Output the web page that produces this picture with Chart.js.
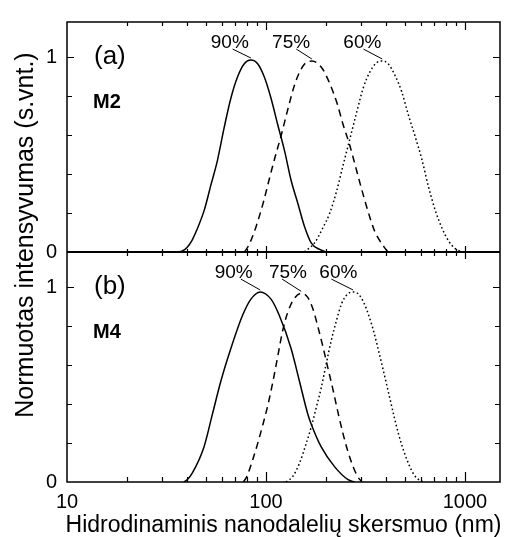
<!DOCTYPE html>
<html>
<head>
<meta charset="utf-8">
<title>Dydžių pasiskirstymas</title>
<script src="https://cdn.jsdelivr.net/npm/chart.js@4.4.1/dist/chart.umd.min.js"></script>
<style>
    html, body { margin: 0; padding: 0; background: #fff; }
    #wrap { width: 505px; height: 537px; }
</style>
</head>
<body>
<div id="wrap"><canvas id="dlsChart" width="505" height="537"></canvas></div>
<script>
// ==================== DATA ====================
// (a) M2 - hydrodynamic size (nm) vs normalised intensity
const sizeM2_90 = [35.8, 38, 40, 42.5, 45, 49, 52.8, 57, 61.6, 66.6, 72, 77.8, 84, 90.8, 98, 106, 114.5, 124, 133.7, 144.5, 156, 168.7, 186, 201];
const intM2_90  = [0, 0.005, 0.022, 0.06, 0.115, 0.216, 0.342, 0.469, 0.637, 0.789, 0.899, 0.966, 0.985, 0.966, 0.899, 0.789, 0.654, 0.519, 0.368, 0.25, 0.132, 0.047, 0.013, 0];

const sizeM2_75 = [78, 81.5, 85.7, 89.3, 97.2, 104, 111, 119, 128.6, 140, 154.5, 170, 191, 209, 227.5, 244, 263.6, 282.5, 302, 326, 352, 392.6, 411];
const intM2_75  = [0, 0.03, 0.081, 0.132, 0.258, 0.376, 0.486, 0.595, 0.73, 0.865, 0.958, 0.98, 0.944, 0.865, 0.764, 0.654, 0.548, 0.435, 0.325, 0.207, 0.106, 0.025, 0];

const sizeM2_60 = [156, 175.5, 193, 209, 226, 244, 263.6, 285, 307.8, 332.7, 359.5, 383.8, 411, 444.6, 480.8, 519, 561, 606.6, 656, 708, 766, 828, 894, 967];
const intM2_60  = [0, 0.047, 0.123, 0.199, 0.309, 0.444, 0.578, 0.713, 0.84, 0.924, 0.971, 0.98, 0.966, 0.907, 0.823, 0.705, 0.595, 0.477, 0.334, 0.216, 0.123, 0.056, 0.017, 0];

// (b) M4
const sizeM4_90 = [38.7, 40.5, 42.6, 48.8, 53.8, 59.3, 66.6, 76.2, 84, 93.5, 106, 116.7, 133.7, 147.3, 162.3, 168.7, 189.5, 221, 258.6, 279];
const intM4_90  = [0, 0.015, 0.045, 0.18, 0.348, 0.517, 0.685, 0.854, 0.938, 0.975, 0.938, 0.854, 0.685, 0.517, 0.348, 0.298, 0.18, 0.079, 0.012, 0];

const sizeM4_75 = [77, 80.2, 85.7, 90.8, 96.2, 102, 108, 114.5, 121.4, 128.6, 138, 150.3, 162.5, 172.2, 182.5, 193.3, 204.8, 217, 230, 244, 258.4, 274, 290, 304];
const intM4_75  = [0, 0.029, 0.113, 0.197, 0.29, 0.391, 0.508, 0.643, 0.778, 0.87, 0.938, 0.968, 0.946, 0.887, 0.795, 0.694, 0.584, 0.475, 0.357, 0.247, 0.155, 0.079, 0.025, 0];

const sizeM4_60 = [126.2, 136.4, 147.3, 159.2, 168.7, 179, 189.5, 201, 213, 226, 239.3, 256.6, 274, 292.5, 311, 328.6, 348.5, 369, 391.5, 415, 439.5, 465.6, 494, 523.6, 554.6, 594, 630];
const intM4_60  = [0, 0.029, 0.096, 0.197, 0.281, 0.382, 0.483, 0.609, 0.727, 0.828, 0.912, 0.963, 0.975, 0.963, 0.918, 0.854, 0.769, 0.668, 0.559, 0.449, 0.34, 0.239, 0.155, 0.088, 0.037, 0.008, 0];

// Axis ticks
const xTickLabels = [10, 100, 1000];
const xMinorTicks = [20, 30, 40, 50, 60, 70, 80, 90, 200, 300, 400, 500, 600, 700, 800, 900];
const yTickLabels = [0, 1];
const yMinorTicks = [0.2, 0.4, 0.6, 0.8];

const seriesNames = ['90%', '75%', '60%'];

// ==================== STYLE ====================
const FONT = "'Liberation Sans', Arial, sans-serif";
Chart.defaults.font.family = FONT;
Chart.defaults.color = '#000';

const lineDash = [[], [7, 5], [1.6, 2.6]];

// Label anchors (nm) for the peak tags; leaders run to each curve's maximum
const tagTextAt = { top: [65.8, 133.7, 305], bottom: [68.8, 129, 231] };
const tagLeadFrom = { top: [68, 142, 309], bottom: [74.8, 120.5, 213] };

function toPoints(xs, ys) {
    return xs.map((x, i) => ({ x: x, y: ys[i] }));
}

function makeSet(label, xs, ys, idx, axis) {
    return {
        label: label,
        data: toPoints(xs, ys),
        yAxisID: axis,
        borderColor: '#000',
        borderWidth: 1.5,
        borderDash: lineDash[idx],
        pointRadius: 0,
        fill: false,
        cubicInterpolationMode: 'monotone'
    };
}

const datasets = [
    makeSet('M2 90%', sizeM2_90, intM2_90, 0, 'yTop'),
    makeSet('M2 75%', sizeM2_75, intM2_75, 1, 'yTop'),
    makeSet('M2 60%', sizeM2_60, intM2_60, 2, 'yTop'),
    makeSet('M4 90%', sizeM4_90, intM4_90, 0, 'yBot'),
    makeSet('M4 75%', sizeM4_75, intM4_75, 1, 'yBot'),
    makeSet('M4 60%', sizeM4_60, intM4_60, 2, 'yBot')
];

// ==================== FRAME, TICKS AND TEXT ====================
function peakOf(ds) {
    let best = ds.data[0];
    ds.data.forEach(p => { if (p.y > best.y) best = p; });
    return best;
}

const panelMarks = {
    id: 'panelMarks',
    afterDraw(chart) {
        const ctx = chart.ctx;
        const area = chart.chartArea;
        const xs = chart.scales.x;
        const panels = [chart.scales.yTop, chart.scales.yBot];
        const mid = chart.scales.yTop.getPixelForValue(0);

        ctx.save();
        ctx.setLineDash([]);
        ctx.globalAlpha = 1;
        ctx.globalCompositeOperation = 'source-over';
        ctx.strokeStyle = '#000';
        ctx.fillStyle = '#000';

        // outer frame + divider
        ctx.lineWidth = 1.5;
        ctx.beginPath();
        ctx.rect(area.left, area.top, area.right - area.left, area.bottom - area.top);
        ctx.stroke();
        ctx.lineWidth = 2;
        ctx.beginPath();
        ctx.moveTo(area.left, mid);
        ctx.lineTo(area.right, mid);
        ctx.stroke();

        // x ticks (inward on the frame, crossing the divider)
        ctx.lineWidth = 1.2;
        const xTick = (v, major) => {
            const px = Math.round(xs.getPixelForValue(v)) + 0.5;
            ctx.beginPath();
            ctx.moveTo(px, area.top); ctx.lineTo(px, area.top + (major ? 8 : 4));
            ctx.moveTo(px, area.bottom); ctx.lineTo(px, area.bottom - (major ? 10 : 5));
            ctx.moveTo(px, mid - (major ? 6 : 3)); ctx.lineTo(px, mid + (major ? 7 : 4));
            ctx.stroke();
        };
        xMinorTicks.forEach(v => xTick(v, false));
        xTickLabels.slice(1).forEach(v => xTick(v, true));

        // y ticks on both sides of each panel
        panels.forEach(s => {
            yMinorTicks.concat([1]).forEach(v => {
                const py = Math.round(s.getPixelForValue(v)) + 0.5;
                const len = v === 1 ? 7 : 5;
                ctx.beginPath();
                ctx.moveTo(area.left, py); ctx.lineTo(area.left + len, py);
                ctx.moveTo(area.right, py); ctx.lineTo(area.right - len, py);
                ctx.stroke();
            });
        });

        // panel tags
        ctx.textAlign = 'left';
        ctx.textBaseline = 'alphabetic';
        [['(a)', 'M2'], ['(b)', 'M4']].forEach((t, i) => {
            const top = panels[i].top;
            ctx.font = '26px ' + FONT;
            ctx.fillText(t[0], area.left + 27, top + 42);
            ctx.font = 'bold 20px ' + FONT;
            ctx.fillText(t[1], area.left + 26, top + 86);
        });

        // peak labels with leader lines
        ctx.font = '19px ' + FONT;
        ctx.textAlign = 'center';
        ctx.lineWidth = 1;
        ['top', 'bottom'].forEach((key, p) => {
            const s = panels[p];
            const baseY = s.getPixelForValue(1) - 9;
            seriesNames.forEach((name, i) => {
                const peak = peakOf(chart.data.datasets[p * 3 + i]);
                ctx.fillText(name, xs.getPixelForValue(tagTextAt[key][i]), baseY);
                ctx.beginPath();
                ctx.moveTo(xs.getPixelForValue(tagLeadFrom[key][i]), baseY + 1);
                ctx.lineTo(xs.getPixelForValue(peak.x), s.getPixelForValue(peak.y) - 2);
                ctx.stroke();
            });
        });

        // axis titles
        ctx.font = '23px ' + FONT;
        ctx.textAlign = 'center';
        ctx.fillText('Hidrodinaminis nanodalelių skersmuo (nm)', (area.left + area.right) / 2, 532);

        ctx.save();
        ctx.translate(33, 235);
        ctx.rotate(-Math.PI / 2);
        ctx.font = '25px ' + FONT;
        ctx.fillText('Normuotas intensyvumas (s.vnt.)', 0, 0);
        ctx.restore();

        ctx.restore();
    }
};

// ==================== CHART ====================
function yAxis() {
    return {
        type: 'linear',
        position: 'left',
        stack: 'panels',
        stackWeight: 1,
        min: 0,
        max: 1.18,
        grid: { display: false, drawTicks: false },
        border: { display: false },
        afterBuildTicks: s => { s.ticks = yTickLabels.map(v => ({ value: v })); },
        afterFit: s => { s.width = 67; },
        ticks: { padding: 10, font: { size: 20 }, callback: v => String(v) }
    };
}

new Chart(document.getElementById('dlsChart').getContext('2d'), {
    type: 'line',
    data: { datasets: datasets },
    options: {
        responsive: false,
        animation: false,
        layout: { padding: { top: 15, right: 5, left: 0, bottom: 0 } },
        plugins: { legend: { display: false }, tooltip: { enabled: false } },
        scales: {
            x: {
                type: 'logarithmic',
                min: 10,
                max: 1500,
                grid: { display: false, drawTicks: false },
                border: { display: false },
                afterBuildTicks: s => { s.ticks = xTickLabels.map(v => ({ value: v })); },
                afterFit: s => { s.height = 55; },
                ticks: { padding: 8, font: { size: 20 }, maxRotation: 0, autoSkip: false, callback: v => String(v) }
            },
            // stacked panels: the first listed ends up at the bottom
            yBot: yAxis(),
            yTop: yAxis()
        }
    },
    plugins: [panelMarks]
});
</script>
</body>
</html>
